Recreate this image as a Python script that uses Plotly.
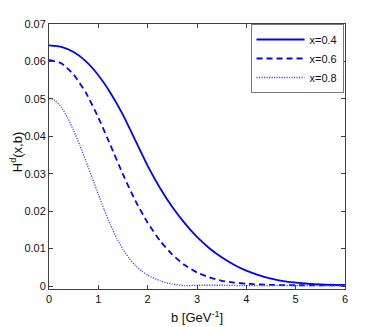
import plotly.graph_objects as go

# ---- data ----
b_04 = [0, 0.25, 0.5, 0.75, 1.0, 1.25, 1.5, 1.75, 2.0, 2.25, 2.5, 2.75, 3.0,
        3.25, 3.5, 3.75, 4.0, 4.25, 4.5, 4.75, 5.0, 5.25, 5.5, 6.0]
H_04 = [0.0643, 0.0639, 0.0625, 0.0600, 0.0563, 0.0515, 0.0457, 0.0389, 0.0321,
        0.0262, 0.0211, 0.0168, 0.0131, 0.0101, 0.0077, 0.0057, 0.0041, 0.0029,
        0.0020, 0.0013, 0.0009, 0.0006, 0.0004, 0.0002]

b_06 = [0, 0.25, 0.5, 0.75, 1.0, 1.25, 1.5, 1.75, 2.0, 2.25, 2.5, 2.75, 3.0,
        3.25, 3.5, 3.75, 4.0, 4.5, 5.0, 5.5, 6.0]
H_06 = [0.0604, 0.0595, 0.0565, 0.0516, 0.0450, 0.0375, 0.0298, 0.0228, 0.0169,
        0.0121, 0.0084, 0.0056, 0.0036, 0.0023, 0.0014, 0.0009, 0.0006, 0.0003,
        0.0002, 0.0002, 0.0002]

b_08 = [0, 0.125, 0.25, 0.375, 0.5, 0.625, 0.75, 0.875, 1.0, 1.125, 1.25, 1.375,
        1.5, 1.625, 1.75, 1.875, 2.0, 2.25, 2.5, 2.75, 3.0, 3.5, 4.0, 5.0, 6.0]
H_08 = [0.0501, 0.0495, 0.0478, 0.0450, 0.0415, 0.0376, 0.0333, 0.0289, 0.0245,
        0.0202, 0.0162, 0.0127, 0.0098, 0.0074, 0.0055, 0.0040, 0.0029, 0.0014,
        0.0005, 0.0001, 0.0002, 0.0002, 0.0001, 0.0001, 0.0001]

series_names = ["x=0.4", "x=0.6", "x=0.8"]
x_tickvals = [0, 1, 2, 3, 4, 5, 6]
y_tickvals = [0, 0.01, 0.02, 0.03, 0.04, 0.05, 0.06, 0.07]
y_ticktext = ["0", "0.01", "0.02", "0.03", "0.04", "0.05", "0.06", "0.07"]

BLUE = "#0000ff"
FONT = "Liberation Sans, Arial, Helvetica, sans-serif"

fig = go.Figure()
fig.add_trace(go.Scatter(x=b_04, y=H_04, mode="lines", name=series_names[0],
                         line=dict(color=BLUE, width=1.8, shape="spline", smoothing=0.5)))
fig.add_trace(go.Scatter(x=b_06, y=H_06, mode="lines", name=series_names[1],
                         line=dict(color=BLUE, width=1.8, dash="6px,4px", shape="spline", smoothing=0.5)))
fig.add_trace(go.Scatter(x=b_08, y=H_08, mode="lines", name=series_names[2],
                         line=dict(color="#3355ff", width=1.3, dash="1.2px,1.3px", shape="spline", smoothing=0.5)))

axis_common = dict(showline=True, linecolor="#404040", linewidth=1, mirror="ticks",
                   ticks="inside", ticklen=4, tickcolor="#404040", showgrid=False,
                   zeroline=False, tickfont=dict(family=FONT, size=11, color="#111"))

fig.update_xaxes(range=[0, 6], tickvals=x_tickvals, **axis_common)
fig.update_yaxes(range=[-0.0008, 0.07], tickvals=y_tickvals, ticktext=y_ticktext, **axis_common)

fig.update_layout(
    width=382, height=327, autosize=False,
    margin=dict(l=49, r=37, t=24, b=38),
    paper_bgcolor="white", plot_bgcolor="white",
    font=dict(family=FONT, size=11, color="#111"),
    showlegend=True,
    legend=dict(x=0.995, y=1.0, xanchor="right", yanchor="top",
                bgcolor="white", bordercolor="#777", borderwidth=1,
                font=dict(family=FONT, size=11, color="#111"),
                itemwidth=48, tracegroupgap=0),
    annotations=[
        dict(text="H<sup>d</sup>(x,b)", textangle=-90, xref="paper", yref="paper",
             x=-0.1125, y=0.515, xanchor="center", yanchor="middle", showarrow=False,
             font=dict(family=FONT, size=13, color="#111")),
        dict(text="b [GeV<sup>-1</sup>]", xref="paper", yref="paper",
             x=0.5, y=-0.105, xanchor="center", yanchor="middle", showarrow=False,
             font=dict(family=FONT, size=13, color="#111")),
    ],
)

fig.write_html("out.html", config={"displayModeBar": False},
               post_script="document.body.style.margin='0';document.body.style.padding='0';document.body.style.overflow='hidden';")
